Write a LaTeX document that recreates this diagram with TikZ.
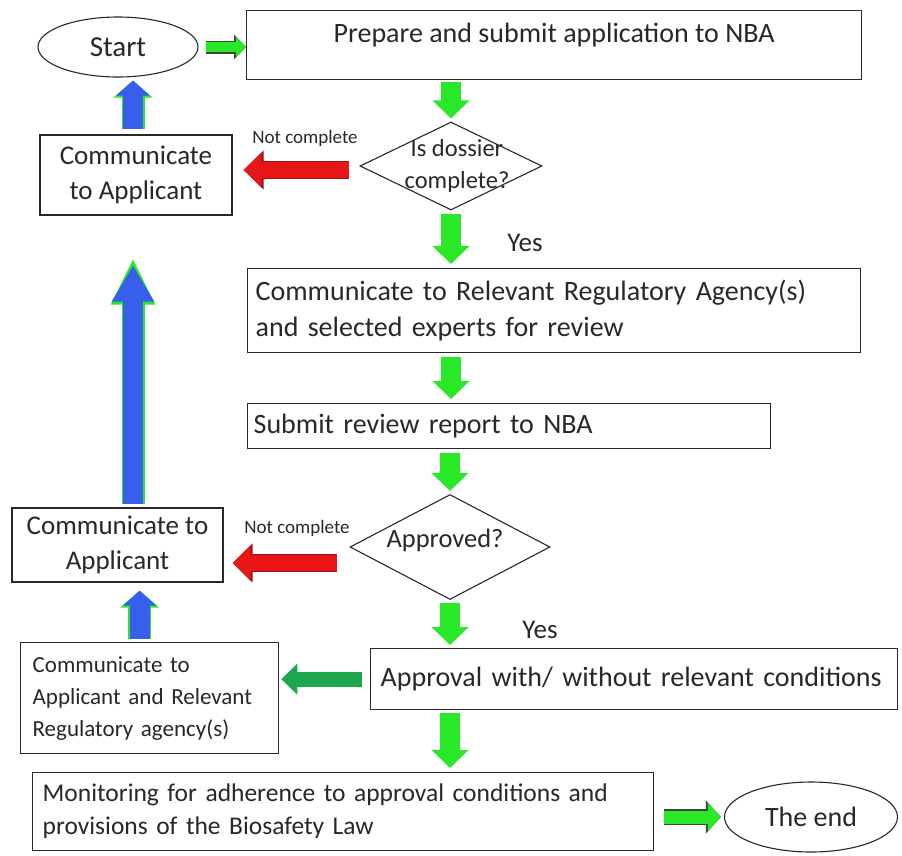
\documentclass[tikz,border=0pt]{standalone}
\usepackage{fontspec}
\setmainfont{Carlito}
\usetikzlibrary{shapes.geometric,arrows.meta,calc}
\definecolor{G}{RGB}{40,232,40}
\definecolor{GD}{RGB}{60,70,60}
\definecolor{R}{RGB}{232,22,22}
\definecolor{RD}{RGB}{150,20,20}
\definecolor{B}{RGB}{55,95,235}
\definecolor{DG}{RGB}{30,165,80}
\definecolor{T}{RGB}{40,40,40}
\tikzset{
  box/.style={draw=T, line width=1.3pt, rectangle, inner sep=0pt, text=T},
  ell/.style={draw=T, line width=1.1pt, ellipse, inner sep=0pt, text=T},
  dia/.style={draw=T, line width=1.1pt, diamond, inner sep=0pt},
  gv/.style={draw=G, line width=20pt, -{Triangle[length=18pt,width=36pt]}},
  gh/.style={preaction={draw=GD, line width=13pt, -{Triangle[length=12pt,width=24pt]}},
             draw=G, line width=10pt, -{Triangle[length=10pt,width=20pt]}},
  ge/.style={preaction={draw=GD, line width=16pt, -{Triangle[length=15pt,width=32pt]}},
             draw=G, line width=13pt, -{Triangle[length=13pt,width=28pt]}},
  ra/.style={preaction={draw=RD, line width=18pt, -{Triangle[length=20pt,width=38pt]}},
             draw=R, line width=16pt, -{Triangle[length=18pt,width=34pt]}},
  ba/.style={preaction={draw=G, line width=23pt, -{Triangle[length=17pt,width=38pt]}},
             draw=B, line width=20pt, -{Triangle[length=15pt,width=33pt]}},
  bl/.style={preaction={draw=G, line width=23pt, -{Triangle[length=88pt,width=29pt]}},
             draw=B, line width=20pt, -{Triangle[length=85pt,width=25pt]}},
  dga/.style={draw=DG, line width=15pt, -{Triangle[length=16pt,width=30pt]}},
  small/.style={font=\fontsize{19}{22}\selectfont, text=T},
  yes/.style={font=\fontsize{27}{30}\selectfont, text=T},
}
\begin{document}
\begin{tikzpicture}[x=1pt,y=-1pt]
\useasboundingbox (0,0) rectangle (902,855);
\fill[white] (0,0) rectangle (902,855);

% nodes
\node[ell, minimum width=160pt, minimum height=60pt, font=\fontsize{29}{32}\selectfont] (start) at (118,47) {Start};
\node[box, anchor=north west, minimum width=615pt, minimum height=69pt,
      font=\fontsize{28}{32}\selectfont, text height=32pt, text depth=37pt] (prep) at (246,10)
      {Prepare and submit application to NBA};
\node[dia, minimum width=182pt, minimum height=88pt,
      label={[align=center, font=\fontsize{24.5}{32}\selectfont, text=T, xshift=6pt]center:Is dossier\\complete?}] (d1) at (451,166) {};
\node[box, minimum width=192pt, minimum height=80pt, align=center,
      font=\fontsize{27}{35}\selectfont] (c1) at (136,175) {Communicate\\to Applicant};
\node[small] (nc1) at (305,138) {Not complete};
\node[yes] (yes1) at (525,243) {Yes};
\node[box, anchor=north west, minimum width=613pt, minimum height=84pt, inner xsep=8pt,
      text width=597pt, align=left, font=\fontsize{28}{36}\selectfont] (rev) at (247,268)
      {Communicate to Relevant Regulatory Agency(s)\\and selected experts for review};
\node[box, anchor=north west, minimum width=523pt, minimum height=45pt, inner xsep=6pt,
      text width=511pt, align=left, font=\fontsize{28}{32}\selectfont] (sub) at (247,403)
      {Submit review report to NBA};
\node[dia, minimum width=200pt, minimum height=105pt,
      label={[font=\fontsize{26.5}{30}\selectfont, text=T, xshift=-5pt, yshift=7pt]center:Approved?}] (d2) at (450,547) {};
\node[box, minimum width=211pt, minimum height=74pt, align=center,
      font=\fontsize{27}{35}\selectfont] (c2) at (117.5,545) {Communicate to\\Applicant};
\node[small] (nc2) at (297,528) {Not complete};
\node[yes] (yes2) at (540,630) {Yes};
\node[box, anchor=north west, minimum width=527pt, minimum height=61pt, inner xsep=10pt,
      text width=507pt, align=left, font=\fontsize{28}{32}\selectfont] (appr) at (370,648)
      {Approval with/ without relevant conditions};
\node[box, anchor=north west, minimum width=258pt, minimum height=111pt, inner xsep=12pt,
      text width=234pt, align=left, font=\fontsize{23}{32}\selectfont] (c3) at (20,642)
      {Communicate to\\Applicant and Relevant\\Regulatory agency(s)};
\node[box, anchor=north west, minimum width=621pt, minimum height=78pt, inner xsep=10pt,
      text width=601pt, align=left, font=\fontsize{25.5}{33}\selectfont] (mon) at (32,772)
      {Monitoring for adherence to approval conditions and\\provisions of the Biosafety Law};
\node[ell, minimum width=173pt, minimum height=70pt, font=\fontsize{28}{32}\selectfont] (end) at (811,817) {The end};

% connectors
\draw[gh, shorten <=7pt] (start.east) -- (prep.west |- start.east);
\draw[gv, shorten <=2pt, shorten >=3pt] (prep.south -| d1.north) -- (d1.north);
\draw[gv, shorten <=3pt, shorten >=4pt] (d1.south) -- (d1.south |- rev.north);
\draw[gv, shorten <=4pt, shorten >=4pt] (d1.south |- rev.south) -- (d1.south |- sub.north);
\draw[gv, shorten <=4pt, shorten >=3pt] (d2.north |- sub.south) -- (d2.north);
\draw[gv, shorten <=3pt, shorten >=3pt] (d2.south) -- (d2.south |- appr.north);
\draw[gv, shorten <=3pt, shorten >=4pt] (d2.south |- appr.south) -- (d2.south |- mon.north);
\draw[ge, shorten <=10pt, shorten >=3pt] (mon.east |- end.west) -- (end.west);
\draw[ra, shorten <=10pt, shorten >=11pt] ([yshift=-4pt]d1.west) -- ([yshift=-4pt]c1.east |- d1.west);
\draw[ra, shorten <=12pt, shorten >=9pt] ([yshift=-16pt]d2.west) -- ([yshift=-16pt]c2.east |- d2.west);
\draw[dga, shorten <=8pt, shorten >=2pt] (appr.west) -- (c3.east |- appr.west);
\draw[ba, shorten <=3pt, shorten >=8pt] ([xshift=-10pt]c3.north) -- ([xshift=-10pt]c3.north |- c2.south);
\draw[bl, shorten <=3pt, shorten >=1pt] ([xshift=15.5pt]c2.north) -- ([xshift=15.5pt]c2.north |- c1.south);
\draw[ba, shorten <=5pt, shorten >=3pt] ([xshift=-3pt]c1.north) -- ([xshift=-3pt]c1.north |- start.south);
\end{tikzpicture}
\end{document}
